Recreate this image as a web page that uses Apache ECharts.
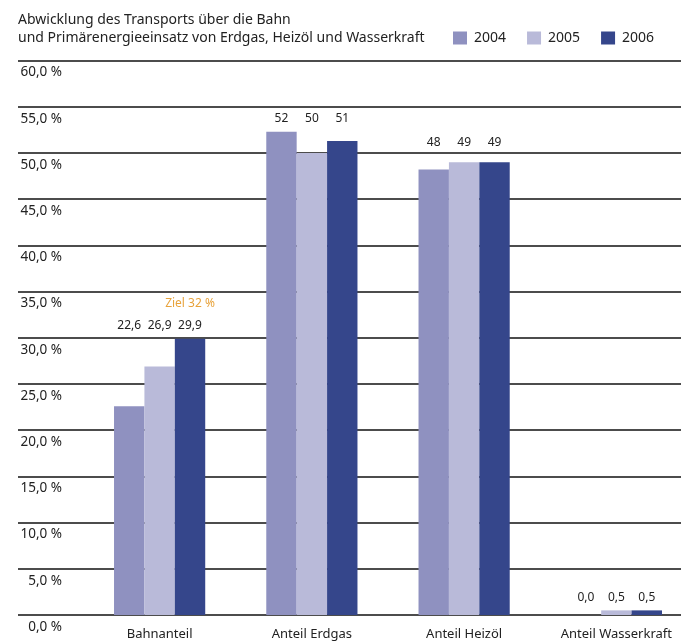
<!DOCTYPE html>
<html>
<head>
<meta charset="utf-8">
<script src="https://cdn.jsdelivr.net/npm/echarts@6/dist/echarts.min.js"></script>
<style>
  html, body { margin: 0; padding: 0; background: #fff; }
  #main { width: 681px; height: 643px; }
</style>
</head>
<body>
<div id="main"></div>
<script>
// data
var categories = ["Bahnanteil", "Anteil Erdgas", "Anteil Heizöl", "Anteil Wasserkraft"];
var years = ["2004", "2005", "2006"];
var y2004 = [22.6, 52.3, 48.2, 0.0];
var y2005 = [26.9, 50.0, 49.0, 0.5];
var y2006 = [29.9, 51.3, 49.0, 0.5];
var decimals = [1, 0, 0, 1];   // how the labels are written per group
var ziel = 32;                 // Bahnanteil target
var yTicks = [0, 60, 5];       // min, max, step

var colors = ["#8f91c0", "#b9bad9", "#35468b"];
var font = "'Noto Sans', 'Open Sans', sans-serif";

var chartDom = document.getElementById("main");
var myChart = echarts.init(chartDom, null, { renderer: "canvas" });

var gridTop = 60.5, gridBottom = 28;

function fmt(v, d) {
  return v.toFixed(d).replace(".", ",");
}

function barSeries(name, data, idx) {
  return {
    name: name,
    type: "bar",
    xAxisIndex: 1,
    yAxisIndex: 1,
    barWidth: 30.4,
    barGap: "0%",
    itemStyle: { color: colors[idx] },
    data: data.map(function (v) { return { value: v }; }),
    label: {
      show: true,
      position: "top",
      distance: 7,
      fontFamily: font,
      fontSize: 12,
      color: "#222",
      formatter: function (p) { return fmt(p.value, decimals[p.dataIndex]); }
    }
  };
}

var option = {
  animation: false,
  textStyle: { fontFamily: font },
  title: {
    text: "Abwicklung des Transports über die Bahn\nund Primärenergieeinsatz von Erdgas, Heizöl und Wasserkraft",
    left: 18,
    top: 11,
    padding: 0,
    textStyle: { fontFamily: font, fontSize: 14, fontWeight: "normal", color: "#222", lineHeight: 18 }
  },
  legend: {
    data: years,
    left: 453,
    top: 31,
    padding: 0,
    icon: "rect",
    itemWidth: 14,
    itemHeight: 13,
    itemGap: 21,
    textStyle: { fontFamily: font, fontSize: 14, color: "#222", padding: [0, 0, 0, 2] }
  },
  grid: [
    // frame for the grid lines and y labels
    { left: 18, right: 0, top: gridTop, bottom: gridBottom, outerBoundsMode: "none" },
    // bars (the last band runs past the right edge)
    { left: 83.5, width: 609, top: gridTop, bottom: gridBottom, outerBoundsMode: "none" }
  ],
  xAxis: [
    { type: "value", gridIndex: 0, show: false, min: 0, max: 1 },
    {
      type: "category",
      gridIndex: 1,
      data: categories,
      axisLine: { show: false },
      axisTick: { show: false },
      axisLabel: { fontFamily: font, fontSize: 13, color: "#222", margin: 13 }
    }
  ],
  yAxis: [
    {
      type: "value",
      gridIndex: 0,
      min: yTicks[0],
      max: yTicks[1],
      interval: yTicks[2],
      axisLine: { show: false },
      axisTick: { show: false },
      splitLine: { show: true, lineStyle: { color: "#111", width: 1.6 } },
      axisLabel: {
        inside: true,
        margin: 44,
        align: "right",
        verticalAlign: "top",
        padding: [5, 0, 0, 0],
        fontFamily: font,
        fontSize: 13.5,
        color: "#222",
        formatter: function (v) { return v.toFixed(1).replace(".", ",") + " %"; }
      }
    },
    {
      type: "value",
      gridIndex: 1,
      min: yTicks[0],
      max: yTicks[1],
      interval: yTicks[2],
      show: false,
      splitLine: { show: false }
    }
  ],
  series: [
    barSeries(years[0], y2004, 0),
    barSeries(years[1], y2005, 1),
    barSeries(years[2], y2006, 2)
  ]
};

option.series[2].markPoint = {
  symbol: "circle",
  symbolSize: 0,
  data: [{ coord: [categories[0], ziel], value: ziel }],
  label: {
    show: true,
    offset: [0, -16],
    fontFamily: font,
    fontSize: 12,
    color: "#e8a33c",
    formatter: function () { return "Ziel " + ziel + " %"; }
  }
};

myChart.setOption(option);

// line the value labels of a group up at the height of its tallest bar
var all = [y2004, y2005, y2006];
var lift = [0, 0, 7, 0];
var updates = all.map(function (arr) {
  return {
    data: arr.map(function (v, i) {
      var top = Math.max(y2004[i], y2005[i], y2006[i]);
      var pv = myChart.convertToPixel({ yAxisIndex: 1 }, v);
      var pt = myChart.convertToPixel({ yAxisIndex: 1 }, top);
      return { value: v, label: { offset: [0, pt - pv - lift[i]] } };
    })
  };
});
myChart.setOption({ series: updates });
</script>
</body>
</html>
